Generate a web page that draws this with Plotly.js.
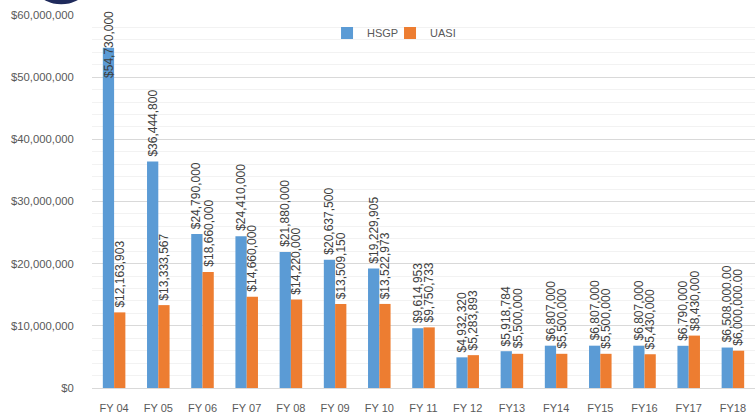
<!DOCTYPE html>
<html>
<head>
<meta charset="utf-8">
<script src="https://cdn.plot.ly/plotly-3.0.1.min.js"></script>
<style>html,body{margin:0;padding:0;background:#fff;}#chart{width:755px;height:414px;}</style>
</head>
<body>
<div id="chart"></div>
<script>
const categories = ["FY 04","FY 05","FY 06","FY 07","FY 08","FY 09","FY 10","FY 11","FY 12","FY13","FY14","FY15","FY16","FY17","FY18"];
const hsgp = [54730000,36444800,24790000,24410000,21880000,20637500,19229905,9614953,4932320,5918784,6807000,6807000,6807000,6790000,6508000];
const uasi = [12163903,13333567,18660000,14660000,14220000,13509150,13522973,9750733,5283893,5500000,5500000,5500000,5430000,8430000,6000000];
const hsgpLabels = ["$54,730,000","$36,444,800","$24,790,000","$24,410,000","$21,880,000","$20,637,500","$19,229,905","$9,614,953","$4,932,320","$5,918,784","$6,807,000","$6,807,000","$6,807,000","$6,790,000","$6,508,000.00"];
const uasiLabels = ["$12,163,903","$13,333,567","$18,660,000","$14,660,000","$14,220,000","$13,509,150","$13,522,973","$9,750,733","$5,283,893","$5,500,000","$5,500,000","$5,500,000","$5,430,000","$8,430,000","$6,000,000.00"];
const yTicks = [0,10000000,20000000,30000000,40000000,50000000,60000000];
const yTickText = ["$0","$10,000,000","$20,000,000","$30,000,000","$40,000,000","$50,000,000","$60,000,000"];

const yMax = 60000000;
const bargap = 0.49;
const barW = (1 - bargap) / 2;
const labelFont = {family: "Liberation Sans, Arial, sans-serif", size: 12, color: "#404040"};

function makeAnnotations(vals, labels, offset) {
  return vals.map((v, i) => {
    const est = labels[i].length * 6.4 / 373 * yMax; // text length in data units
    const clamp = v + est > yMax * 1.01;
    return {
      x: i + offset, xref: "x", y: clamp ? yMax : v, yref: "y",
      text: labels[i], textangle: -90, showarrow: false,
      xanchor: "center", yanchor: clamp ? "top" : "bottom",
      yshift: clamp ? 5 : 4, font: labelFont, borderpad: 0
    };
  });
}

const traces = [
  {type: "bar", name: "HSGP", x: categories, y: hsgp, marker: {color: "#5B9BD5"}, hoverinfo: "x+y", legend: "legend"},
  {type: "bar", name: "UASI", x: categories, y: uasi, marker: {color: "#ED7D31"}, hoverinfo: "x+y", legend: "legend2"}
];

const legendBase = {orientation: "h", y: 0.952, xanchor: "left", yanchor: "middle",
  font: {size: 11, color: "#595959"}, bgcolor: "rgba(0,0,0,0)", itemwidth: 30};

const layout = {
  width: 755, height: 414,
  margin: {l: 92, r: 0, t: 15, b: 26},
  paper_bgcolor: "#fff", plot_bgcolor: "#fff",
  barmode: "group", bargap: bargap, bargroupgap: 0,
  font: {family: "Liberation Sans, Arial, sans-serif", color: "#595959", size: 11},
  showlegend: true,
  legend: Object.assign({}, legendBase, {x: 0.3545}),
  legend2: Object.assign({}, legendBase, {x: 0.4495}),
  xaxis: {type: "category", showgrid: false, showline: true, linecolor: "#d9d9d9", linewidth: 1,
          ticks: "outside", ticklen: 10, tickcolor: "rgba(0,0,0,0)",
          tickfont: {size: 11, color: "#595959"}, zeroline: false, fixedrange: true},
  yaxis: {range: [0, yMax], tickvals: yTicks, ticktext: yTickText, showgrid: true,
          gridcolor: "#d9d9d9", gridwidth: 1, zeroline: false, showline: false,
          ticks: "outside", ticklen: 15, tickcolor: "rgba(0,0,0,0)",
          tickfont: {size: 11.3, color: "#595959"},
          minor: {dtick: 2000000, showgrid: true, gridcolor: "#f2f2f2", gridwidth: 1},
          fixedrange: true},
  annotations: makeAnnotations(hsgp, hsgpLabels, -barW / 2).concat(makeAnnotations(uasi, uasiLabels, barW / 2)),
  shapes: [{type: "circle", xref: "paper", yref: "paper", x0: -0.078, x1: -0.015, y0: 1.029, y1: 1.085,
            fillcolor: "#1f2a5c", line: {width: 0}, layer: "above"}]
};

Plotly.newPlot("chart", traces, layout, {displayModeBar: false, staticPlot: true});
</script>
</body>
</html>
